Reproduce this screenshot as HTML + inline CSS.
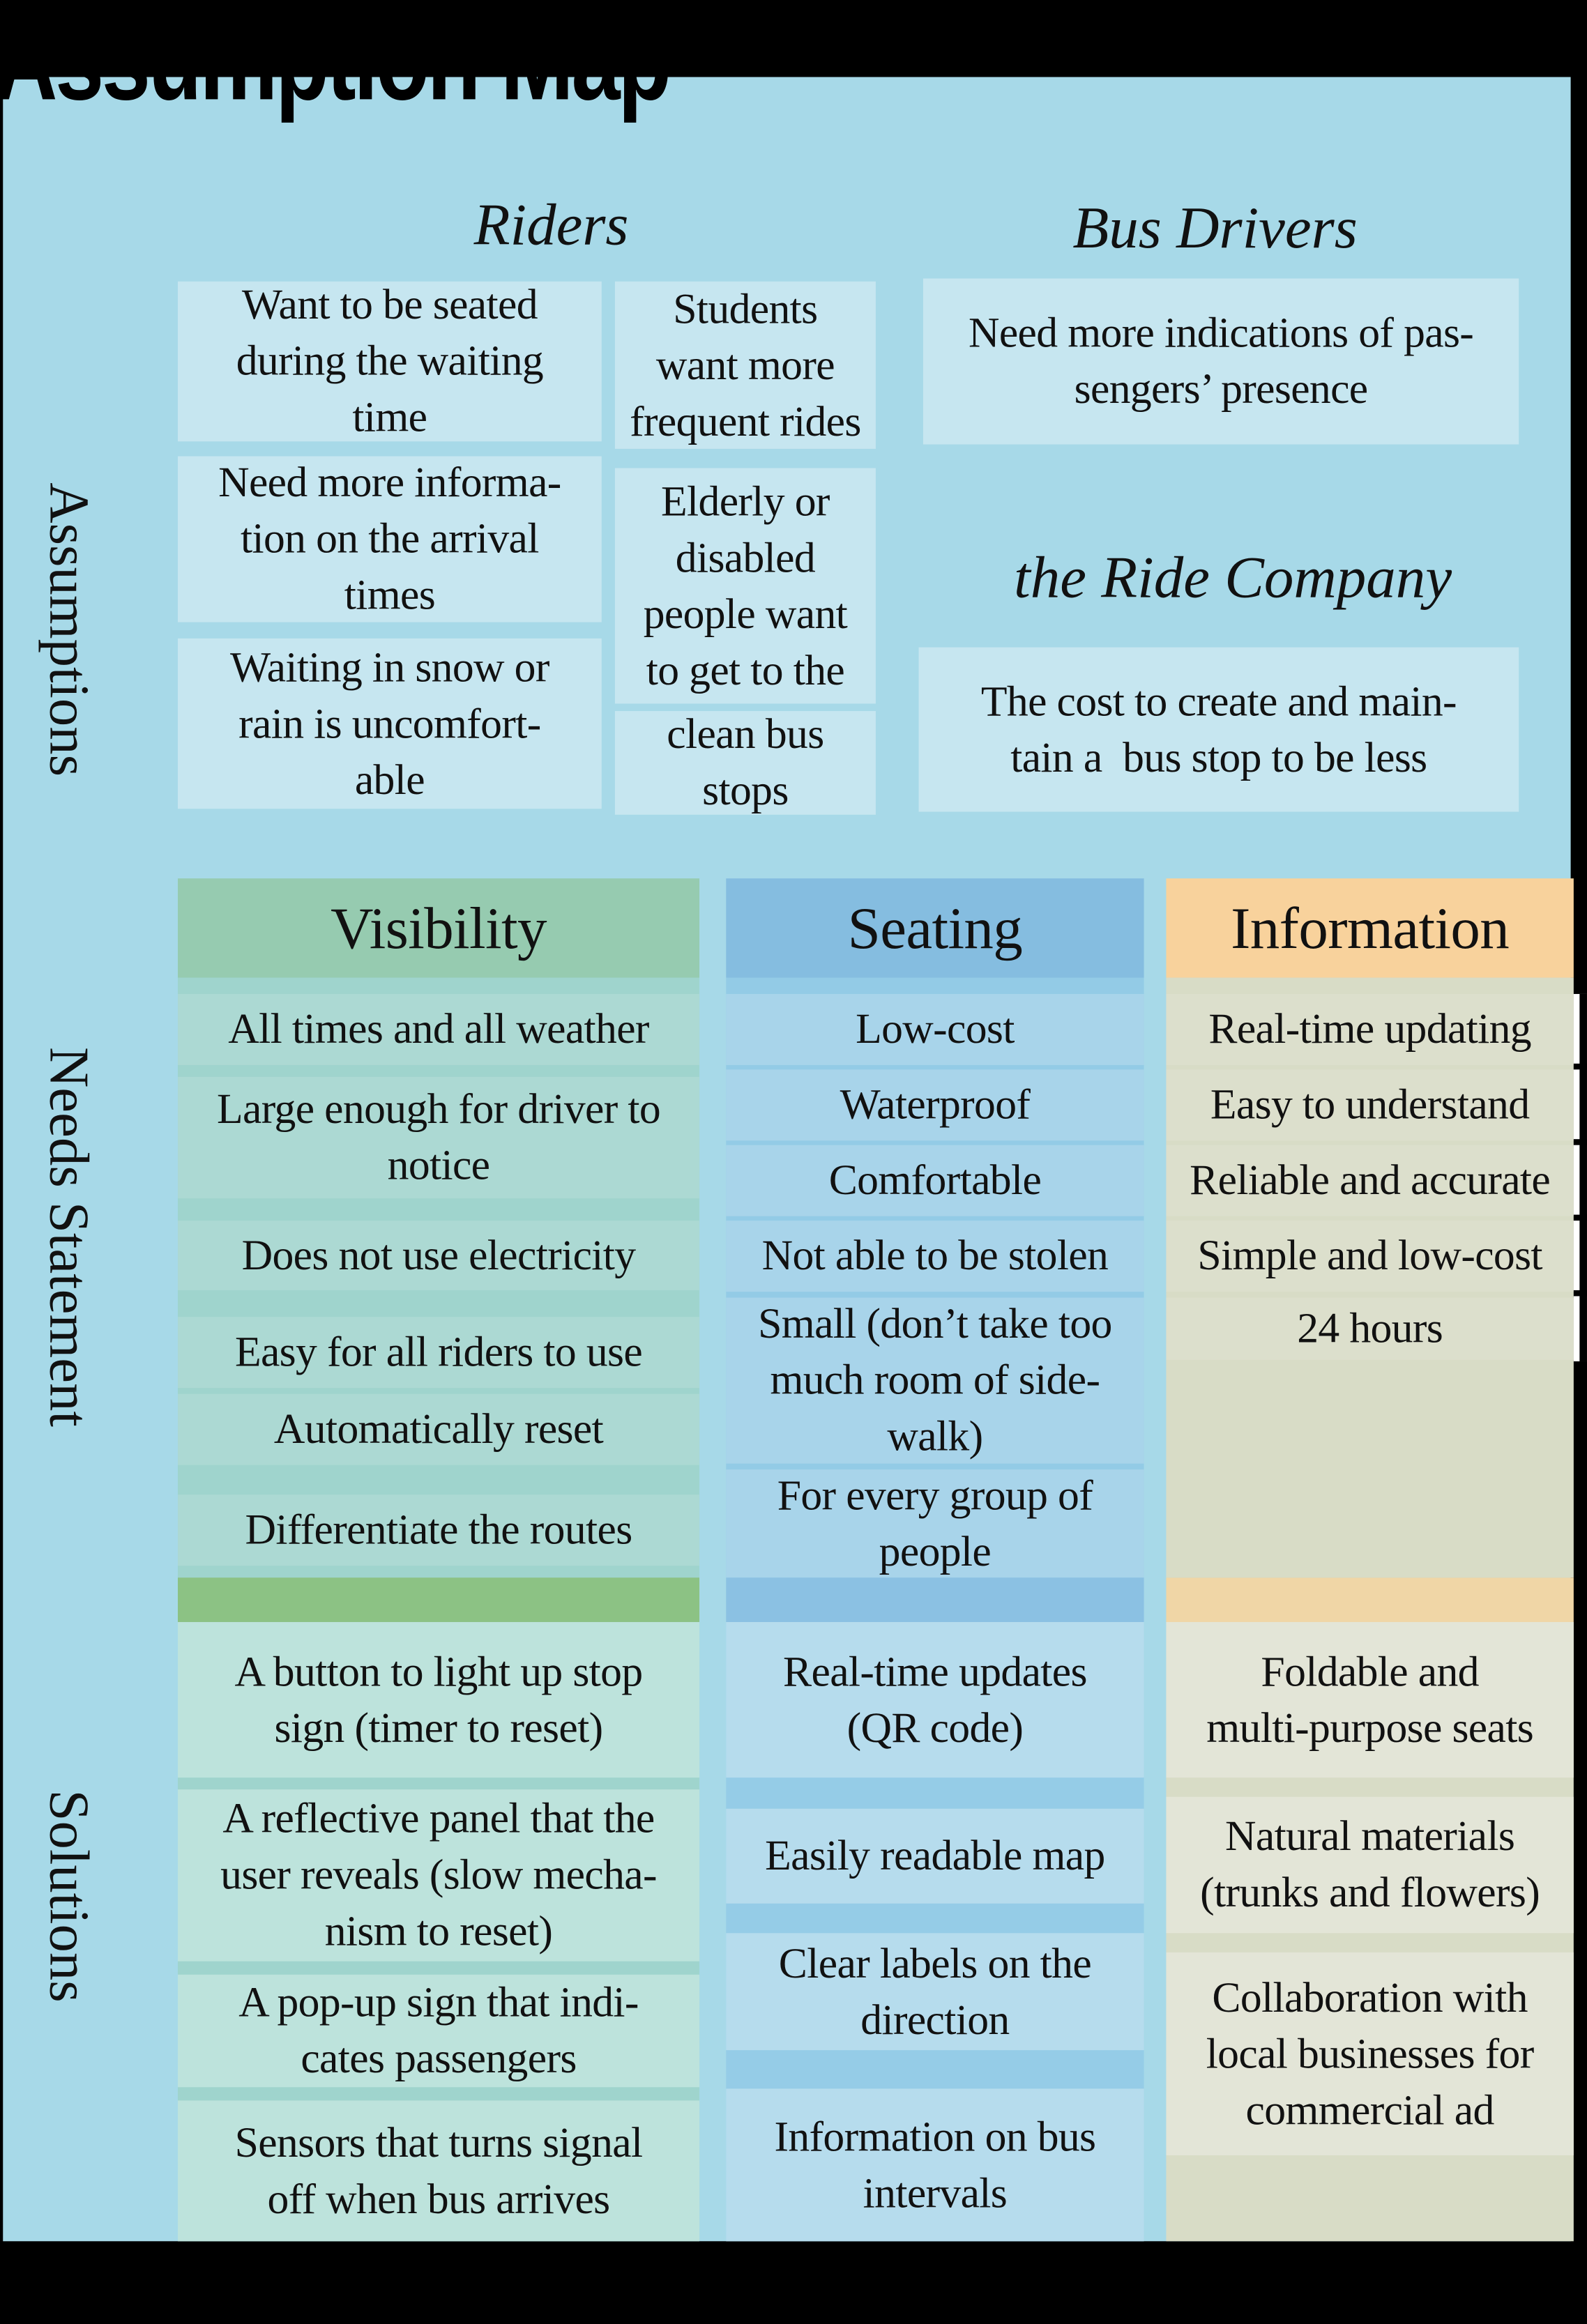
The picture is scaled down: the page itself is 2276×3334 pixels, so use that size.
<!DOCTYPE html>
<html><head><meta charset="utf-8"><style>
html,body{margin:0;padding:0;background:#000;}
body{width:2276px;height:3333px;overflow:hidden;position:relative;}
#s{position:absolute;left:0;top:0;width:1071px;height:1569px;transform:scale(2.1251);transform-origin:0 0;}
.b{position:absolute;display:flex;align-items:center;justify-content:center;text-align:center;font-family:"Liberation Serif",serif;font-size:29px;line-height:38px;color:#111;box-sizing:border-box;white-space:nowrap;letter-spacing:-0.3px;}
.r{position:absolute;}
.t{position:absolute;font-family:"Liberation Serif",serif;font-style:italic;font-size:40px;color:#111;text-align:center;white-space:nowrap;}
.side{position:absolute;font-family:"Liberation Serif",serif;font-size:38px;color:#111;white-space:nowrap;transform:translate(-50%,-50%) rotate(90deg);}
.h{font-size:40px;}
</style></head><body><div id="s">
<div class="r" style="left:2px;top:52px;width:1058px;height:1461px;background:#a7d9e8"></div>
<div style="position:absolute;left:-4px;top:2px;font-family:'Liberation Sans',sans-serif;font-weight:bold;font-size:76px;line-height:80px;color:#000;transform:scaleX(0.78);transform-origin:0 0;white-space:nowrap;letter-spacing:-2px">Assumption Map</div>

<div class="t" style="left:272px;top:128px;width:200px">Riders</div>
<div class="t" style="left:680px;top:130px;width:280px">Bus Drivers</div>
<div class="t" style="left:640px;top:366px;width:384px">the Ride Company</div>

<div class="b" style="left:120px;top:190px;width:286px;height:108px;background:#c6e6f0">Want to be seated<br>during the waiting<br>time</div>
<div class="b" style="left:120px;top:308px;width:286px;height:112px;background:#c6e6f0">Need more informa-<br>tion on the arrival<br>times</div>
<div class="b" style="left:120px;top:431px;width:286px;height:115px;background:#c6e6f0">Waiting in snow or<br>rain is uncomfort-<br>able</div>
<div class="b" style="left:415px;top:190px;width:176px;height:113px;background:#c6e6f0">Students<br>want more<br>frequent rides</div>
<div class="b" style="left:415px;top:316px;width:176px;height:159px;background:#c6e6f0">Elderly or<br>disabled<br>people want<br>to get to the</div>
<div class="b" style="left:415px;top:480px;width:176px;height:70px;background:#c6e6f0">clean bus<br>stops</div>
<div class="b" style="left:623px;top:188px;width:402px;height:112px;background:#c6e6f0">Need more indications of pas-<br>sengers’ presence</div>
<div class="b" style="left:620px;top:437px;width:405px;height:111px;background:#c6e6f0">The cost to create and main-<br>tain a&nbsp; bus stop to be less</div>

<div class="side" style="left:46px;top:425px">Assumptions</div>
<div class="side" style="left:46px;top:835px">Needs Statement</div>
<div class="side" style="left:46px;top:1280px">Solutions</div>

<!-- Visibility column -->
<div class="r" style="left:120px;top:660px;width:352px;height:405px;background:#9fd4cd"></div>
<div class="b h" style="left:120px;top:593px;width:352px;height:67px;background:#96cbb0">Visibility</div>
<div class="b" style="left:120px;top:671px;width:352px;height:48px;background:#acd9d3">All times and all weather</div>
<div class="b" style="left:120px;top:727px;width:352px;height:82px;background:#acd9d3">Large enough for driver to<br>notice</div>
<div class="b" style="left:120px;top:824px;width:352px;height:47px;background:#acd9d3">Does not use electricity</div>
<div class="b" style="left:120px;top:889px;width:352px;height:48px;background:#acd9d3">Easy for all riders to use</div>
<div class="b" style="left:120px;top:941px;width:352px;height:48px;background:#acd9d3">Automatically reset</div>
<div class="b" style="left:120px;top:1009px;width:352px;height:48px;background:#acd9d3">Differentiate the routes</div>
<div class="r" style="left:120px;top:1065px;width:352px;height:30px;background:#8cc284"></div>
<div class="r" style="left:120px;top:1095px;width:352px;height:418px;background:#9fd4cd"></div>
<div class="b" style="left:120px;top:1095px;width:352px;height:105px;background:#bde3dc">A button to light up stop<br>sign (timer to reset)</div>
<div class="b" style="left:120px;top:1208px;width:352px;height:116px;background:#bde3dc">A reflective panel that the<br>user reveals (slow mecha-<br>nism to reset)</div>
<div class="b" style="left:120px;top:1333px;width:352px;height:76px;background:#bde3dc">A pop-up sign that indi-<br>cates passengers</div>
<div class="b" style="left:120px;top:1418px;width:352px;height:95px;background:#bde3dc">Sensors that turns signal<br>off when bus arrives</div>

<!-- Seating column -->
<div class="r" style="left:490px;top:660px;width:282px;height:405px;background:#93cbe6"></div>
<div class="b h" style="left:490px;top:593px;width:282px;height:67px;background:#85bde0">Seating</div>
<div class="b" style="left:490px;top:671px;width:282px;height:48px;background:#a8d4ea">Low-cost</div>
<div class="b" style="left:490px;top:722px;width:282px;height:48px;background:#a8d4ea">Waterproof</div>
<div class="b" style="left:490px;top:773px;width:282px;height:48px;background:#a8d4ea">Comfortable</div>
<div class="b" style="left:490px;top:824px;width:282px;height:48px;background:#a8d4ea">Not able to be stolen</div>
<div class="b" style="left:490px;top:876px;width:282px;height:112px;background:#a8d4ea">Small (don’t take too<br>much room of side-<br>walk)</div>
<div class="b" style="left:490px;top:992px;width:282px;height:73px;background:#a8d4ea">For every group of<br>people</div>
<div class="r" style="left:490px;top:1065px;width:282px;height:30px;background:#8bc1e3"></div>
<div class="r" style="left:490px;top:1095px;width:282px;height:418px;background:#95cce7"></div>
<div class="b" style="left:490px;top:1095px;width:282px;height:105px;background:#b6dced">Real-time updates<br>(QR code)</div>
<div class="b" style="left:490px;top:1221px;width:282px;height:64px;background:#b6dced">Easily readable map</div>
<div class="b" style="left:490px;top:1305px;width:282px;height:79px;background:#b6dced">Clear labels on the<br>direction</div>
<div class="b" style="left:490px;top:1410px;width:282px;height:103px;background:#b6dced">Information on bus<br>intervals</div>

<!-- Information column -->
<div class="r" style="left:787px;top:660px;width:275px;height:405px;background:#d8dcc6"></div>
<div class="b h" style="left:787px;top:593px;width:275px;height:67px;background:#f8d29c">Information</div>
<div class="b" style="left:787px;top:671px;width:275px;height:48px;background:#dcdfcc">Real-time updating</div>
<div class="b" style="left:787px;top:722px;width:275px;height:48px;background:#dcdfcc">Easy to understand</div>
<div class="b" style="left:787px;top:773px;width:275px;height:48px;background:#dcdfcc">Reliable and accurate</div>
<div class="b" style="left:787px;top:824px;width:275px;height:48px;background:#dcdfcc">Simple and low-cost</div>
<div class="b" style="left:787px;top:876px;width:275px;height:42px;background:#dcdfcc">24 hours</div>
<div class="r" style="left:1062px;top:671px;width:9px;height:248px;background:#fff"></div>
<div class="r" style="left:1062px;top:718px;width:9px;height:4px;background:#000"></div>
<div class="r" style="left:1062px;top:769px;width:9px;height:4px;background:#000"></div>
<div class="r" style="left:1062px;top:820px;width:9px;height:4px;background:#000"></div>
<div class="r" style="left:1062px;top:871px;width:9px;height:4px;background:#000"></div>
<div class="r" style="left:1066px;top:671px;width:5px;height:248px;background:#000"></div>
<div class="r" style="left:787px;top:1065px;width:275px;height:30px;background:#f0d6a6"></div>
<div class="r" style="left:787px;top:1095px;width:275px;height:418px;background:#d8dcc6"></div>
<div class="b" style="left:787px;top:1095px;width:275px;height:105px;background:#e3e5d7">Foldable and<br>multi-purpose seats</div>
<div class="b" style="left:787px;top:1213px;width:275px;height:92px;background:#e3e5d7">Natural materials<br>(trunks and flowers)</div>
<div class="b" style="left:787px;top:1318px;width:275px;height:137px;background:#e3e5d7">Collaboration with<br>local businesses for<br>commercial ad</div>
</div></body></html>
